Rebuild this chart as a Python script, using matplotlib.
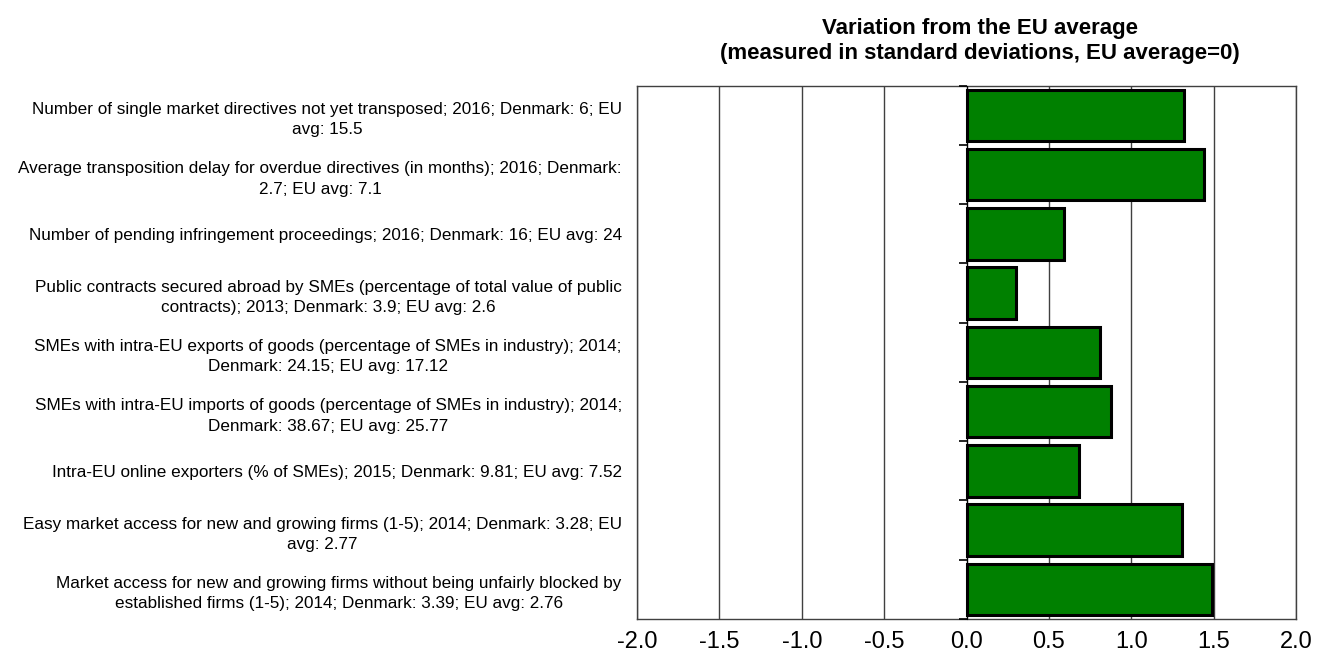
import matplotlib.pyplot as plt
import numpy as np

plt.rcParams['font.family'] = ['Liberation Sans', 'DejaVu Sans']

labels = [
    "Number of single market directives not yet transposed; 2016; Denmark: 6; EU\navg: 15.5",
    "Average transposition delay for overdue directives (in months); 2016; Denmark:\n2.7; EU avg: 7.1",
    "Number of pending infringement proceedings; 2016; Denmark: 16; EU avg: 24",
    "Public contracts secured abroad by SMEs (percentage of total value of public\ncontracts); 2013; Denmark: 3.9; EU avg: 2.6",
    "SMEs with intra-EU exports of goods (percentage of SMEs in industry); 2014;\nDenmark: 24.15; EU avg: 17.12",
    "SMEs with intra-EU imports of goods (percentage of SMEs in industry); 2014;\nDenmark: 38.67; EU avg: 25.77",
    "Intra-EU online exporters (% of SMEs); 2015; Denmark: 9.81; EU avg: 7.52",
    "Easy market access for new and growing firms (1-5); 2014; Denmark: 3.28; EU\navg: 2.77",
    "Market access for new and growing firms without being unfairly blocked by\nestablished firms (1-5); 2014; Denmark: 3.39; EU avg: 2.76",
]
values = [1.32, 1.44, 0.59, 0.30, 0.81, 0.88, 0.68, 1.31, 1.49]
xticks = [-2.0, -1.5, -1.0, -0.5, 0.0, 0.5, 1.0, 1.5, 2.0]

pos = [0.4797, 0.0664, 0.4962, 0.8043]
fig = plt.figure(figsize=(13.28, 6.63), dpi=100)
ax = fig.add_axes(pos)

y = np.arange(len(labels))
ax.barh(y, values, height=0.87, color="#008000", edgecolor="black",
        linewidth=2.2, zorder=3)

ax.set_xlim(-2, 2)
ax.set_ylim(len(labels) - 0.5, -0.5)
ax.set_xticks(xticks)
ax.set_xticklabels([f"{t:.1f}" for t in xticks], fontsize=17)
ax.tick_params(axis='x', length=0, pad=9)
ax.set_yticks(y)
ax.set_yticklabels(labels, fontsize=12.3, multialignment='center',
                   linespacing=1.45)
ax.tick_params(axis='y', length=0, pad=11)
ax.xaxis.grid(True, color="#404040", linewidth=1.0, zorder=0)
ax.set_axisbelow(True)
for s in ax.spines.values():
    s.set_color("#404040")
    s.set_linewidth(1.0)

# zero axis with small ticks between categories
ax2 = fig.add_axes(pos)
ax2.patch.set_visible(False)
ax2.set_xlim(-2, 2)
ax2.set_ylim(len(labels) - 0.5, -0.5)
for k in ['top', 'right', 'bottom']:
    ax2.spines[k].set_visible(False)
ax2.spines['left'].set_position(('data', 0))
ax2.spines['left'].set_color("black")
ax2.set_xticks([])
ax2.set_yticks(np.arange(len(labels) + 1) - 0.5)
ax2.set_yticklabels([])
ax2.tick_params(axis='y', length=6, width=1.2, color="black", direction='out')

fig.text(0.738, 0.973, "Variation from the EU average\n(measured in standard deviations, EU average=0)",
         fontsize=16, fontweight='bold', ha='center', va='top', linespacing=1.25)

plt.savefig("out.png", dpi=100)
